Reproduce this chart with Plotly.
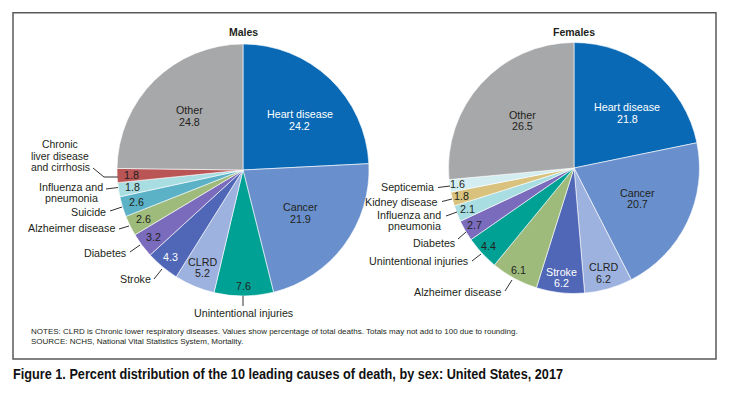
import math
import plotly.graph_objects as go

W, H = 733, 395

# ---------------- data ----------------
male_causes = ["Heart disease", "Cancer", "Unintentional injuries", "CLRD", "Stroke",
               "Diabetes", "Alzheimer disease", "Suicide", "Influenza and pneumonia",
               "Chronic liver disease and cirrhosis", "Other"]
male_values = [24.2, 21.9, 7.6, 5.2, 4.3, 3.2, 2.6, 2.6, 1.8, 1.8, 24.8]

female_causes = ["Heart disease", "Cancer", "CLRD", "Stroke", "Alzheimer disease",
                 "Unintentional injuries", "Diabetes", "Influenza and pneumonia",
                 "Kidney disease", "Septicemia", "Other"]
female_values = [21.8, 20.7, 6.2, 6.2, 6.1, 4.4, 2.7, 2.1, 1.8, 1.6, 26.5]

# ---------------- styles ----------------
colors = {
    "Heart disease": "#0a69b4",
    "Cancer": "#6990cc",
    "Unintentional injuries": "#00a195",
    "CLRD": "#9eb2e0",
    "Stroke": "#4f67b6",
    "Diabetes": "#7a6bbd",
    "Alzheimer disease": "#9ebb7c",
    "Suicide": "#5bb1c6",
    "Influenza and pneumonia": "#a8dde2",
    "Chronic liver disease and cirrhosis": "#b95555",
    "Other": "#a7a8aa",
    "Kidney disease": "#d8c27d",
    "Septicemia": "#d3edf1",
}
DARK = "#231f20"
FONT = "Liberation Sans"
FS = 10.7

def px(x):
    return x / W

def py(y):
    return 1 - y / H

# pie geometry (pixels)
MC, MR = (243, 170), 126
FC, FR = (574, 168), 125.5

annotations = []
shapes = []

def text(x, y, s, size=FS, color=DARK, xanchor="center", bold=False, family=FONT):
    if bold:
        s = "<b>" + s + "</b>"
    annotations.append(dict(x=px(x), y=py(y), xref="paper", yref="paper", text=s,
                            showarrow=False, xanchor=xanchor, yanchor="middle",
                            font=dict(family=family, size=size, color=color)))

def lines_text(x, y, lines, spacing=11.5, **kw):
    n = len(lines)
    for i, ln in enumerate(lines):
        text(x, y + (i - (n - 1) / 2) * spacing, ln, **kw)

def leader(points):
    for (x0, y0), (x1, y1) in zip(points[:-1], points[1:]):
        shapes.append(dict(type="line", xref="paper", yref="paper",
                           x0=px(x0), y0=py(y0), x1=px(x1), y1=py(y1),
                           line=dict(color="#333333", width=1)))

def inside_labels(center, radius, values, spec):
    cx, cy = center
    cum = 0
    for v, s in zip(values, spec):
        lines, frac, col = s[0], s[1], s[2]
        dang = s[3] if len(s) > 3 else 0.0
        mid = (cum + v / 2) / 100 * 2 * math.pi + math.radians(dang)
        cum += v
        x = cx + frac * radius * math.sin(mid)
        y = cy - frac * radius * math.cos(mid)
        lines_text(x, y, lines, color=col)

def fmt(v):
    return f"{v:.1f}"

fig = go.Figure()

fig.add_trace(go.Pie(
    labels=male_causes, values=male_values, sort=False, direction="clockwise",
    rotation=0, textinfo="none", hoverinfo="label+value",
    marker=dict(colors=[colors[c] for c in male_causes], line=dict(color="white", width=0.6)),
    domain=dict(x=[px(MC[0] - MR), px(MC[0] + MR)], y=[py(MC[1] + MR), py(MC[1] - MR)]),
    showlegend=False))

fig.add_trace(go.Pie(
    labels=female_causes, values=female_values, sort=False, direction="clockwise",
    rotation=0, textinfo="none", hoverinfo="label+value",
    marker=dict(colors=[colors[c] for c in female_causes], line=dict(color="white", width=0.6)),
    domain=dict(x=[px(FC[0] - FR), px(FC[0] + FR)], y=[py(FC[1] + FR), py(FC[1] - FR)]),
    showlegend=False))

mv = [fmt(v) for v in male_values]
male_spec = [
    (["Heart disease", mv[0]], 0.60, "white", 5.0),
    (["Cancer", mv[1]], 0.57, DARK),
    ([mv[2]], 0.92, DARK),
    (["CLRD", mv[3]], 0.84, DARK),
    ([mv[4]], 0.9, "white"),
    ([mv[5]], 0.89, DARK),
    ([mv[6]], 0.885, DARK),
    ([mv[7]], 0.885, DARK),
    ([mv[8]], 0.885, DARK),
    ([mv[9]], 0.885, DARK),
    (["Other", mv[10]], 0.6, DARK),
]
inside_labels(MC, MR, male_values, male_spec)

fv = [fmt(v) for v in female_values]
female_spec = [
    (["Heart disease", fv[0]], 0.61, "white", 4.8),
    (["Cancer", fv[1]], 0.56, DARK),
    (["CLRD", fv[2]], 0.87, DARK),
    (["Stroke", fv[3]], 0.88, "white"),
    ([fv[4]], 0.93, DARK),
    ([fv[5]], 0.92, DARK),
    ([fv[6]], 0.915, DARK),
    ([fv[7]], 0.91, DARK),
    ([fv[8]], 0.92, DARK),
    ([fv[9]], 0.94, DARK),
    (["Other", fv[10]], 0.56, DARK),
]
inside_labels(FC, FR, female_values, female_spec)

# ---- male outside labels ----
text(243, 313, "Unintentional injuries")
leader([(243, 296), (243, 306)])
text(153, 279, "Stroke", xanchor="right")
leader([(154, 279), (162, 269)])
text(128, 253, "Diabetes", xanchor="right")
leader([(130, 252), (140, 245)])
text(117, 228, "Alzheimer disease", xanchor="right")
leader([(119, 229), (129, 226)])
text(108, 212, "Suicide", xanchor="right")
leader([(110, 211), (122, 207)])
lines_text(71, 192.5, ["Influenza and", "pneumonia"], spacing=11)
leader([(106, 189), (118, 187.5)])
lines_text(60, 156, ["Chronic", "liver disease", "and cirrhosis"], spacing=11, size=10.4)
leader([(93, 168), (104, 177), (118, 177)])

# ---- female outside labels ----
text(503, 292, "Alzheimer disease", xanchor="right")
leader([(505, 291), (512, 280)])
text(470, 261, "Unintentional injuries", xanchor="right")
leader([(472, 261), (481, 254)])
text(457, 243, "Diabetes", xanchor="right")
leader([(458, 239), (466, 232)])
lines_text(443, 220.5, ["Influenza and", "pneumonia"], spacing=11.5, xanchor="right")
leader([(446, 216), (457, 212)])
text(440, 202, "Kidney disease", xanchor="right")
leader([(442, 201.5), (452, 199)])
text(436, 187, "Septicemia", xanchor="right")
leader([(438, 187.5), (450, 186)])

# ---- titles ----
text(243, 32, "Males", size=10.5, bold=True)
text(574, 32, "Females", size=10.5, bold=True)

annotations.append(dict(x=px(29), y=py(331.5), xref="paper", yref="paper",
                        text="NOTES: CLRD is Chronic lower respiratory diseases. Values show percentage of total deaths. Totals may not add to 100 due to rounding.",
                        showarrow=False, xanchor="left", yanchor="middle",
                        font=dict(family=FONT, size=8, color=DARK)))
annotations.append(dict(x=px(29), y=py(341.5), xref="paper", yref="paper",
                        text="SOURCE: NCHS, National Vital Statistics System, Mortality.",
                        showarrow=False, xanchor="left", yanchor="middle",
                        font=dict(family=FONT, size=8, color=DARK)))
annotations.append(dict(x=px(11), y=py(373), xref="paper", yref="paper",
                        text="Figure 1. Percent distribution of the 10 leading causes of death, by sex: United States, 2017",
                        showarrow=False, xanchor="left", yanchor="middle", align="left",
                        font=dict(family=FONT, size=15.5, color="#111111", weight="bold")))

# frame
shapes.append(dict(type="rect", xref="paper", yref="paper",
                   x0=px(13), y0=py(359), x1=px(716), y1=py(12.7),
                   line=dict(color="#5a5a5a", width=1.5), fillcolor="rgba(0,0,0,0)", layer="below"))

fig.update_layout(width=W, height=H, margin=dict(l=0, r=0, t=0, b=0),
                  paper_bgcolor="white", plot_bgcolor="white",
                  annotations=annotations, shapes=shapes,
                  font=dict(family=FONT, color=DARK))

post = """
document.body.style.margin='0';
document.body.style.overflow='hidden';
var ts = document.querySelectorAll('text.annotation-text');
ts.forEach(function(t){
  if (t.textContent.indexOf('Figure 1.') === 0) {
    t.setAttribute('textLength', '550');
    t.setAttribute('lengthAdjust', 'spacingAndGlyphs');
  }
});
"""

fig.write_html("out.html", config={"displayModeBar": False}, post_script=post)
